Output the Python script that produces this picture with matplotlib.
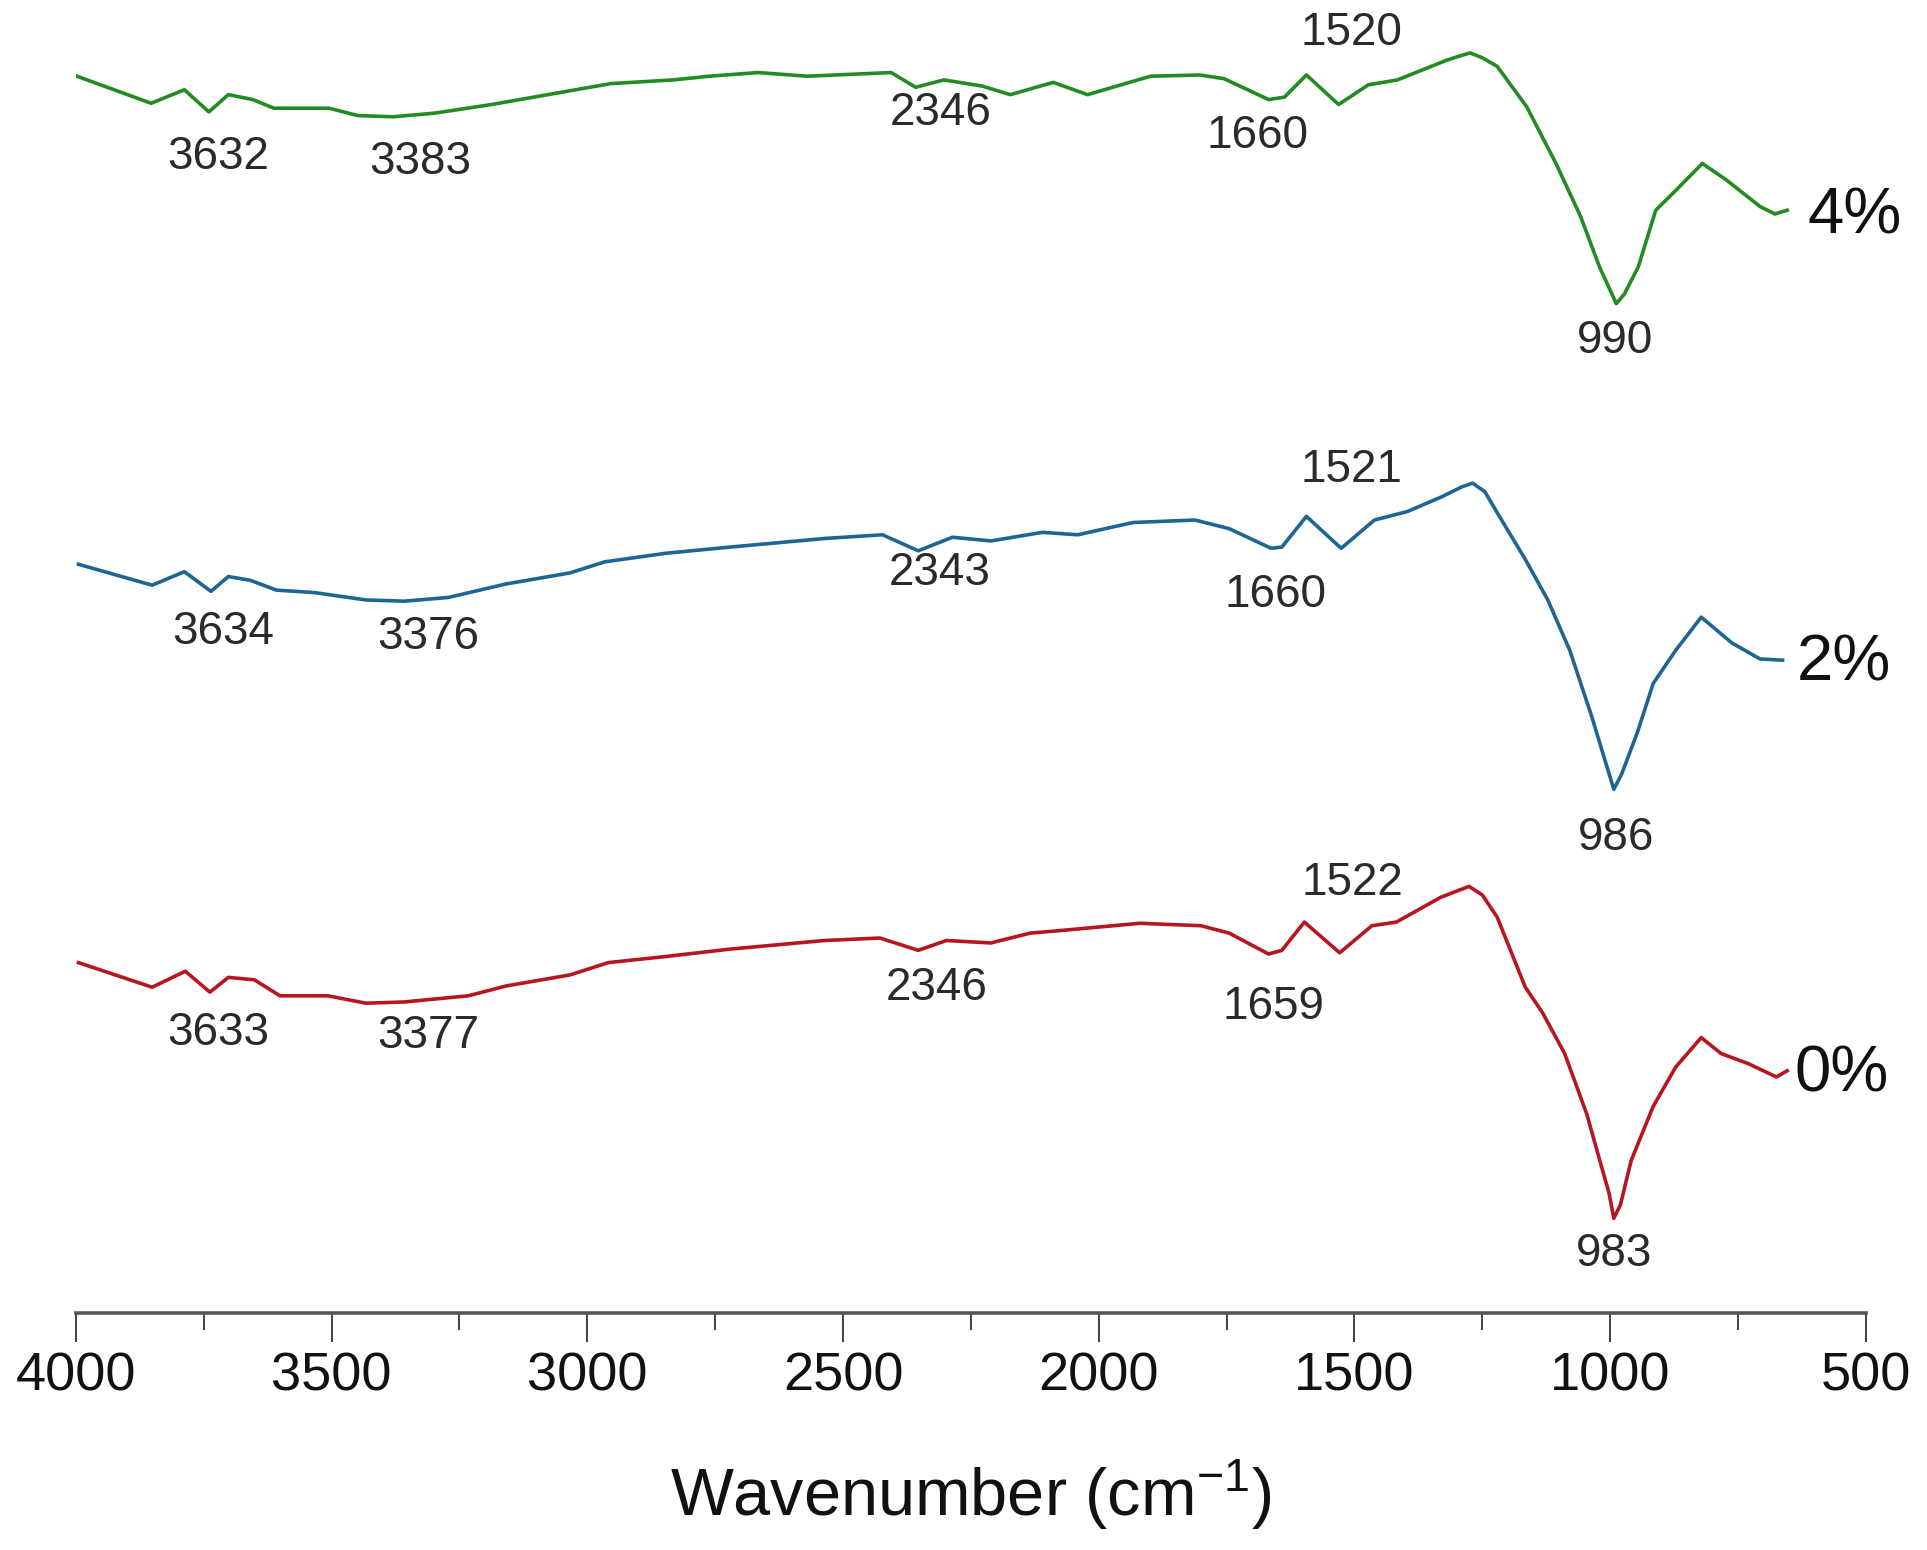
import matplotlib
matplotlib.use('Agg')
import matplotlib.pyplot as plt
from matplotlib.ticker import MultipleLocator

plt.rcParams['font.family'] = ['Liberation Sans', 'DejaVu Sans']
plt.rcParams['mathtext.default'] = 'regular'

# FTIR spectra (wavenumber in cm-1, transmittance in a.u.)
wn_0 = [3995, 3851, 3786, 3738, 3702, 3651, 3601, 3507, 3433, 3358, 3233, 3159, 3034, 2959,
        2846, 2721, 2536, 2428, 2353, 2298, 2211, 2134, 2077, 1920, 1800, 1745, 1668, 1642,
        1598, 1529, 1466, 1418, 1332, 1295, 1276, 1250, 1221, 1166, 1132, 1089, 1046, 1002,
        993, 980, 959, 916, 872, 822, 783, 731, 675, 654]
t_0 = [28.5, 26.5, 27.8, 26.1, 27.3, 27.1, 25.8, 25.8, 25.2, 25.3, 25.8, 26.6, 27.5, 28.5,
       29.0, 29.6, 30.3, 30.5, 29.5, 30.3, 30.1, 30.9, 31.1, 31.7, 31.5, 30.9, 29.2, 29.5,
       31.8, 29.3, 31.5, 31.8, 33.8, 34.4, 34.7, 34.0, 32.2, 26.5, 24.4, 21.1, 16.2, 9.7,
       7.7, 8.8, 12.4, 16.8, 20.0, 22.4, 21.1, 20.3, 19.2, 19.7]

wn_2 = [3995, 3851, 3788, 3736, 3702, 3659, 3608, 3534, 3433, 3358, 3272, 3159, 3034, 2966,
        2846, 2721, 2536, 2423, 2353, 2286, 2211, 2110, 2041, 1933, 1812, 1745, 1663, 1642,
        1594, 1526, 1461, 1396, 1329, 1290, 1269, 1245, 1221, 1166, 1122, 1079, 1036, 993,
        978, 947, 916, 872, 822, 762, 707, 663]
t_2 = [27.9, 26.2, 27.3, 25.7, 26.9, 26.6, 25.8, 25.6, 25.0, 24.9, 25.2, 26.3, 27.2, 28.1,
       28.8, 29.3, 30.0, 30.3, 29.0, 30.1, 29.8, 30.5, 30.3, 31.3, 31.5, 30.8, 29.2, 29.3,
       31.8, 29.2, 31.5, 32.2, 33.4, 34.2, 34.5, 33.8, 32.1, 28.3, 25.0, 20.9, 15.5, 9.6,
       10.8, 14.2, 18.2, 20.9, 23.6, 21.5, 20.2, 20.1]

wn_4 = [3998, 3853, 3788, 3740, 3702, 3654, 3613, 3505, 3449, 3380, 3298, 3187, 3050, 2954,
        2832, 2762, 2666, 2570, 2406, 2358, 2303, 2228, 2173, 2089, 2022, 1899, 1803, 1755,
        1668, 1637, 1594, 1531, 1473, 1416, 1368, 1320, 1290, 1274, 1250, 1221, 1163, 1106,
        1058, 1021, 988, 972, 945, 911, 872, 820, 774, 707, 678, 654]
t_4 = [34.6, 32.4, 33.5, 31.7, 33.1, 32.7, 32.0, 32.0, 31.4, 31.3, 31.6, 32.3, 33.3, 34.0,
       34.3, 34.6, 34.9, 34.6, 34.9, 33.7, 34.3, 33.8, 33.1, 34.1, 33.1, 34.6, 34.7, 34.4,
       32.7, 32.9, 34.7, 32.3, 33.9, 34.3, 35.1, 35.9, 36.3, 36.5, 36.1, 35.4, 32.1, 27.5,
       23.2, 19.1, 16.1, 16.9, 19.1, 23.7, 25.3, 27.5, 26.2, 24.0, 23.4, 23.7]

series_labels = ['0%', '2%', '4%']
series_offsets = [0, 33, 66]
colors = ['#b5161f', '#1f6592', '#238b23']

# peak labels: text, wavenumber position, height position
peaks_0 = [('3633', 3721, 22.8), ('3377', 3312, 22.5), ('2346', 2317, 26.4),
           ('1659', 1658, 24.9), ('1522', 1505, 35.0), ('983', 993, 4.8)]
peaks_2 = [('3634', 3712, 55.4), ('3376', 3312, 55.0), ('2343', 2312, 60.2),
           ('1660', 1654, 58.4), ('1521', 1505, 68.6), ('986', 988, 38.6)]
peaks_4 = [('3632', 3721, 94.0), ('3383', 3327, 93.6), ('2346', 2310, 97.6),
           ('1660', 1690, 95.7), ('1520', 1505, 104.1), ('990', 990, 79.1)]
label_x = [640, 635, 615]
label_y = [19.4, 52.8, 89.2]

fig = plt.figure(figsize=(19.27, 15.5), dpi=100)
ax = fig.add_axes([0.0394, 0.1529, 0.9289, 0.8471])

spectra = [(wn_0, t_0, peaks_0), (wn_2, t_2, peaks_2), (wn_4, t_4, peaks_4)]
for i, (wn, t, peaks) in enumerate(spectra):
    ax.plot(wn, [v + series_offsets[i] for v in t], color=colors[i], lw=2.6,
            solid_joinstyle='round')
    for txt, px, py in peaks:
        ax.text(px, py, txt, fontsize=33, color='#2a2a2a', ha='center', va='center')
    ax.text(label_x[i], label_y[i], series_labels[i], fontsize=47, color='#111111',
            ha='left', va='center')

ax.set_xlim(4000, 500)
ax.set_ylim(0, 106.8)
ax.xaxis.set_major_locator(MultipleLocator(500))
ax.xaxis.set_minor_locator(MultipleLocator(250))
ax.tick_params(axis='x', which='major', direction='out', length=21, width=1.3,
               pad=7, labelsize=39, colors='#333333', labelcolor='#111111')
ax.tick_params(axis='x', which='minor', direction='out', length=12, width=1.3,
               colors='#333333')
ax.set_yticks([])
for s in ['left', 'right', 'top']:
    ax.spines[s].set_visible(False)
ax.spines['bottom'].set_linewidth(2.6)
ax.spines['bottom'].set_color('#555555')

ax.set_xlabel('Wavenumber (cm$^{-1}$)', fontsize=48, color='#111111', labelpad=40)

fig.savefig('out.png', dpi=100)
